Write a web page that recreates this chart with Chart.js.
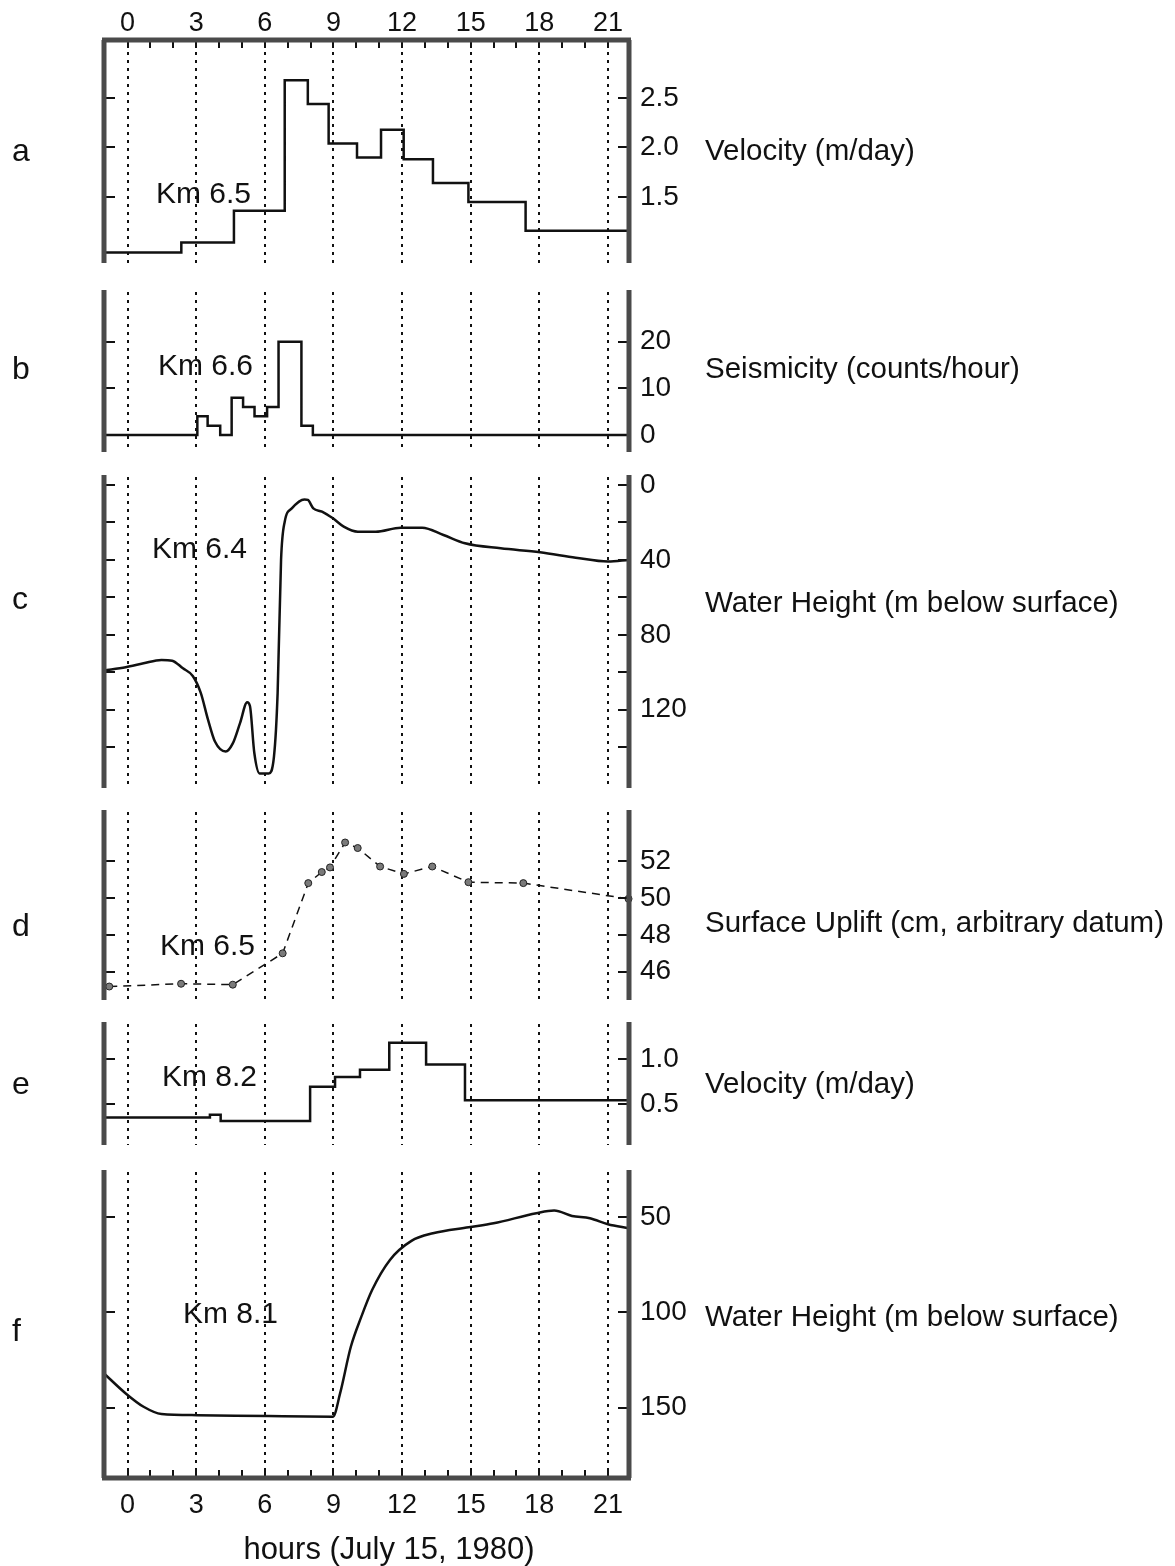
<!DOCTYPE html>
<html>
<head>
<meta charset="utf-8">
<title>Km 6-8 record, July 15 1980</title>
<script src="https://cdn.jsdelivr.net/npm/chart.js@4.4.0/dist/chart.umd.min.js"></script>
<style>
  body { margin: 0; background: #fff; }
  #page { position: relative; width: 1175px; height: 1566px; font-family: "Liberation Sans", Arial, sans-serif; color: #111; }
  canvas { position: absolute; left: 0; }
  .tag { position: absolute; font-size: 29.5px; line-height: 1; transform: translateY(-50%); white-space: nowrap; }
  .letter { position: absolute; left: 12px; font-size: 32px; line-height: 1; transform: translateY(-50%); }
</style>
</head>
<body>
<div id="page">
  <canvas id="pa"></canvas>
  <canvas id="pb"></canvas>
  <canvas id="pc"></canvas>
  <canvas id="pd"></canvas>
  <canvas id="pe"></canvas>
  <canvas id="pf"></canvas>

  <div class="letter" style="top:150px">a</div>
  <div class="letter" style="top:368px">b</div>
  <div class="letter" style="top:598px">c</div>
  <div class="letter" style="top:925px">d</div>
  <div class="letter" style="top:1083px">e</div>
  <div class="letter" style="top:1330px">f</div>

  <div class="tag" style="left:705px; top:150px">Velocity (m/day)</div>
  <div class="tag" style="left:705px; top:368px">Seismicity (counts/hour)</div>
  <div class="tag" style="left:705px; top:602px">Water Height (m below surface)</div>
  <div class="tag" style="left:705px; top:922px">Surface Uplift (cm, arbitrary datum)</div>
  <div class="tag" style="left:705px; top:1083px">Velocity (m/day)</div>
  <div class="tag" style="left:705px; top:1316px">Water Height (m below surface)</div>
  <div class="tag" style="left:389px; top:1548px; font-size:31px; transform: translate(-50%, -50%)">hours (July 15, 1980)</div>
</div>

<script>
const X_MIN = -1.03;
const X_MAX = 21.92;

// labelled hours and the minor hour marks along the top and bottom edges
const hourTicks = [0, 3, 6, 9, 12, 15, 18, 21];
const hourMarks = [0, 1, 2, 3, 4, 5, 6, 7, 8, 9, 10, 11, 12, 13, 14, 15, 16, 17, 18, 19, 20, 21];

// a: velocity at Km 6.5 (m/day), each level starts at the given hour
const velA_hours = [-1.03, 2.35, 4.65, 6.87, 7.88, 8.79, 10.03, 11.08, 12.07, 13.35, 14.9, 17.4];
const velA = [0.94, 1.04, 1.36, 2.68, 2.44, 2.04, 1.90, 2.18, 1.88, 1.64, 1.45, 1.16];
const velA_ticks = [1.5, 2.0, 2.5];

// b: seismicity at Km 6.6 (counts/hour)
const seis_hours = [-1.03, 3.05, 3.5, 4.05, 4.55, 5.05, 5.55, 6.1, 6.6, 7.6, 8.1];
const seis = [0, 4, 2, 0, 8, 6, 4, 6, 20, 2, 0];
const seis_ticks = [0, 10, 20];

// c: water height at Km 6.4 (m below surface)
const wellC_hours = [-1.03, -0.08, 0.7, 1.48, 1.95, 2.42, 2.85, 3.2, 3.51, 3.82, 4.29, 4.6, 4.92, 5.23, 5.35,
  5.54, 5.77, 6.17, 6.4, 6.56, 6.71, 6.87, 7.18, 7.73, 7.88, 8.12, 8.5, 8.98, 9.45, 10.07, 10.85,
  11.94, 12.88, 13.81, 14.75, 16.31, 18.03, 19.59, 21.0, 21.92];
const wellC = [99, 97.3, 95.2, 93.4, 93.8, 97.9, 102, 111, 125, 137, 142.3, 138, 127, 116, 118,
  143, 154, 154, 145, 111, 40, 19.6, 12.5, 7.7, 8, 12.5, 14.2, 17.8, 22.2, 24.9, 24.9,
  22.8, 22.8, 26.7, 31.1, 33.8, 35.9, 38.8, 40.9, 40];
const wellC_marks = [0, 20, 40, 60, 80, 100, 120, 140];
const wellC_ticks = [0, 40, 80, 120];

// d: surface uplift at Km 6.5 (cm, arbitrary datum)
const uplift_hours = [-0.8, 2.34, 4.6, 6.78, 7.9, 8.49, 8.85, 9.51, 10.06, 11.04, 12.08, 13.32, 14.9, 17.3, 21.9];
const uplift = [45.2, 45.35, 45.3, 47.0, 50.8, 51.4, 51.65, 53.0, 52.7, 51.7, 51.3, 51.7, 50.85, 50.8, 49.95];
const uplift_ticks = [46, 48, 50, 52];

// e: velocity at Km 8.2 (m/day)
const velE_hours = [-1.03, 3.6, 4.07, 7.98, 9.07, 10.16, 11.44, 13.05, 14.75];
const velE = [0.35, 0.38, 0.31, 0.69, 0.80, 0.88, 1.18, 0.94, 0.54];
const velE_ticks = [0.5, 1.0];

// f: water height at Km 8.1 (m below surface)
const wellF_hours = [-1.03, -0.08, 0.7, 1.48, 3.04, 6.17, 8.98, 9.29, 9.76, 10.22, 10.69, 11.47, 12.41,
  13.35, 14.91, 16.0, 17.87, 18.65, 19.43, 20.21, 21.0, 21.92];
const wellF = [132, 142.5, 149.5, 153.3, 153.9, 154.4, 154.7, 142.5, 118, 102.2, 88.2, 72.4, 62.4,
  58.4, 55.3, 53.2, 47.9, 46.5, 49.3, 50.5, 53.7, 55.8];
const wellF_ticks = [50, 100, 150];

const FONT = '"Liberation Sans", Arial, sans-serif';
const INK = '#111';
const AXIS = '#4a4a4a';

function points(xs, ys) {
  return xs.map((x, i) => ({ x: x, y: ys[i] }));
}

// levels held until the next start hour, last one runs to the right edge
function steps(xs, ys) {
  const pts = points(xs, ys);
  pts.push({ x: X_MAX, y: ys[ys.length - 1] });
  return pts;
}

// keep the plot box fixed: no extra room for half labels at the ends
function noEndPadding(axis) {
  axis.paddingTop = 0;
  axis.paddingBottom = 0;
  axis.paddingLeft = 0;
  axis.paddingRight = 0;
}

// dotted hour lines, thick side axes, inward ticks and the site label
const panelFrame = {
  id: 'panelFrame',
  beforeDatasetsDraw(chart, args, opts) {
    const { ctx, chartArea: { top, bottom } } = chart;
    const x = chart.scales.x;
    ctx.save();
    ctx.strokeStyle = INK;
    ctx.lineWidth = 2;
    ctx.setLineDash([3, 5]);
    hourTicks.forEach(h => {
      const px = Math.round(x.getPixelForValue(h));
      ctx.beginPath();
      ctx.moveTo(px, top + (opts.edge === 'top' ? 12 : 2));
      ctx.lineTo(px, bottom - (opts.edge === 'bottom' ? 8 : 0));
      ctx.stroke();
    });
    ctx.restore();
  },
  afterDatasetsDraw(chart, args, opts) {
    const { ctx, chartArea: { left, right, top, bottom } } = chart;
    const x = chart.scales.x;
    const y = chart.scales.y;
    ctx.save();
    ctx.strokeStyle = INK;
    ctx.lineWidth = 2;
    opts.marks.forEach(v => {
      const py = Math.round(y.getPixelForValue(v));
      ctx.beginPath();
      ctx.moveTo(left, py); ctx.lineTo(left + 11, py);
      ctx.moveTo(right - 11, py); ctx.lineTo(right, py);
      ctx.stroke();
    });
    if (opts.edge) {
      const ey = opts.edge === 'top' ? top : bottom;
      const dir = opts.edge === 'top' ? 1 : -1;
      hourMarks.forEach(h => {
        const px = Math.round(x.getPixelForValue(h));
        ctx.beginPath();
        ctx.moveTo(px, ey);
        ctx.lineTo(px, ey + dir * 8);
        ctx.stroke();
      });
    }
    ctx.strokeStyle = AXIS;
    ctx.lineWidth = 5;
    ctx.beginPath();
    ctx.moveTo(left, top); ctx.lineTo(left, bottom);
    ctx.moveTo(right, top); ctx.lineTo(right, bottom);
    if (opts.edge === 'top') { ctx.moveTo(left - 2, top); ctx.lineTo(right + 2, top); }
    if (opts.edge === 'bottom') { ctx.moveTo(left - 2, bottom); ctx.lineTo(right + 2, bottom); }
    ctx.stroke();
    ctx.fillStyle = INK;
    ctx.font = '30px ' + FONT;
    ctx.textBaseline = 'alphabetic';
    ctx.fillText(opts.site, opts.siteX, opts.siteY);
    ctx.restore();
  }
};

function makePanel(p) {
  const canvas = document.getElementById(p.id);
  const canvasTop = p.edge === 'top' ? 0 : p.top - 10;
  const canvasBottom = p.edge === 'bottom' ? 1566 : p.bottom + 10;
  canvas.width = 1175;
  canvas.height = canvasBottom - canvasTop;
  canvas.style.top = canvasTop + 'px';

  const xAxis = {
    type: 'linear',
    min: X_MIN,
    max: X_MAX,
    display: !!p.edge,
    position: p.edge || 'bottom',
    grid: { display: false, drawTicks: false },
    border: { display: false },
    afterBuildTicks: axis => { axis.ticks = hourTicks.map(v => ({ value: v })); },
    afterFit: axis => {
      noEndPadding(axis);
      if (p.edge) axis.height = p.edge === 'top' ? 40 : 88;
    },
    ticks: {
      autoSkip: false,
      maxRotation: 0,
      padding: p.edge === 'top' ? 0 : 11,
      color: INK,
      font: { family: FONT, size: 27 }
    }
  };

  return new Chart(canvas, {
    type: 'line',
    data: { datasets: p.datasets },
    options: {
      responsive: false,
      animation: false,
      devicePixelRatio: 1,
      events: [],
      layout: {
        autoPadding: false,
        padding: {
          left: 104,
          right: 1175 - 629 - 100,
          top: p.edge === 'top' ? 0 : 10,
          bottom: p.edge === 'bottom' ? 0 : 10
        }
      },
      plugins: {
        legend: { display: false },
        tooltip: { enabled: false },
        panelFrame: { marks: p.marks || p.ticks, edge: p.edge, site: p.site, siteX: p.siteX, siteY: p.siteY - canvasTop }
      },
      scales: {
        x: xAxis,
        y: {
          type: 'linear',
          position: 'right',
          min: p.yMin,
          max: p.yMax,
          reverse: !!p.reverse,
          grid: { display: false, drawTicks: false },
          border: { display: false },
          afterBuildTicks: axis => { axis.ticks = p.ticks.map(v => ({ value: v })); },
          afterFit: axis => {
            noEndPadding(axis);
            axis.width = 100;
          },
          ticks: {
            padding: 11,
            color: INK,
            font: { family: FONT, size: 28 },
            callback: p.fmt || (v => String(v))
          }
        }
      }
    },
    plugins: [panelFrame]
  });
}

const stepLine = { borderColor: INK, borderWidth: 2.5, pointRadius: 0, stepped: 'before', fill: false };
const smoothLine = { borderColor: INK, borderWidth: 2.5, pointRadius: 0, cubicInterpolationMode: 'monotone', fill: false };

makePanel({
  id: 'pa', top: 40, bottom: 263, edge: 'top',
  yMin: 0.833, yMax: 3.086, ticks: velA_ticks, fmt: v => v.toFixed(1),
  site: 'Km 6.5', siteX: 156, siteY: 203,
  datasets: [Object.assign({ data: steps(velA_hours, velA) }, stepLine)]
});

makePanel({
  id: 'pb', top: 290, bottom: 452,
  yMin: -3.64, yMax: 31.1, ticks: seis_ticks,
  site: 'Km 6.6', siteX: 158, siteY: 375,
  datasets: [Object.assign({ data: steps(seis_hours, seis) }, stepLine)]
});

makePanel({
  id: 'pc', top: 475, bottom: 788, reverse: true,
  yMin: -5.34, yMax: 161.8, ticks: wellC_ticks, marks: wellC_marks,
  site: 'Km 6.4', siteX: 152, siteY: 558,
  datasets: [Object.assign({ data: points(wellC_hours, wellC) }, smoothLine)]
});

makePanel({
  id: 'pd', top: 810, bottom: 1000,
  yMin: 44.47, yMax: 54.76, ticks: uplift_ticks,
  site: 'Km 6.5', siteX: 160, siteY: 955,
  datasets: [{
    data: points(uplift_hours, uplift),
    borderColor: INK,
    borderWidth: 1.5,
    borderDash: [8, 6],
    pointRadius: 3.5,
    pointBackgroundColor: '#7a7a7a',
    pointBorderColor: '#222',
    pointBorderWidth: 1,
    tension: 0,
    fill: false,
    clip: 6
  }]
});

makePanel({
  id: 'pe', top: 1022, bottom: 1145,
  yMin: 0.044, yMax: 1.411, ticks: velE_ticks, fmt: v => v.toFixed(1),
  site: 'Km 8.2', siteX: 162, siteY: 1086,
  datasets: [Object.assign({ data: steps(velE_hours, velE) }, stepLine)]
});

makePanel({
  id: 'pf', top: 1170, bottom: 1478, edge: 'bottom', reverse: true,
  yMin: 25.2, yMax: 186.9, ticks: wellF_ticks,
  site: 'Km 8.1', siteX: 183, siteY: 1323,
  datasets: [Object.assign({ data: points(wellF_hours, wellF) }, smoothLine)]
});
</script>
</body>
</html>
